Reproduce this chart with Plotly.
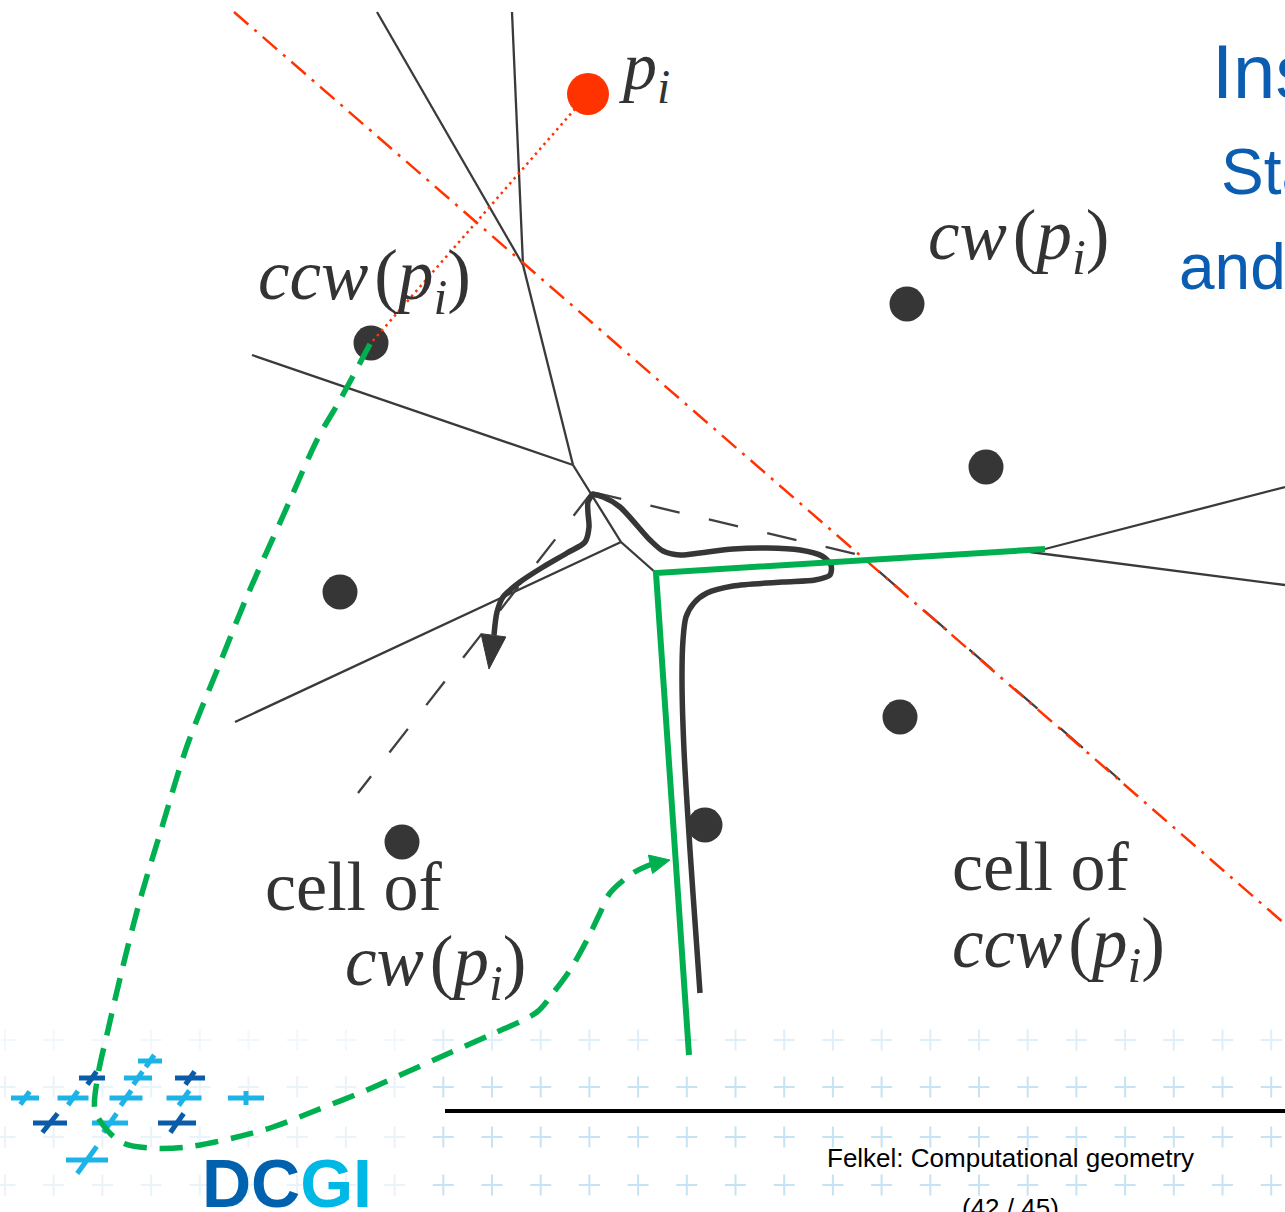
import numpy as np
import plotly.graph_objects as go

W, H = 1285, 1212

# ---------------- data (diagram coordinates, pixel space, y downward) ----------------
site_x = [371, 907, 986, 340, 900, 705, 402]
site_y = [343, 304, 467, 592, 717, 825, 842]
new_site_x = [588]
new_site_y = [94]

# Voronoi edges (thin dark polylines)
vor_edges_x = [[377, 523], [512, 523], [523, 573], [252, 573], [573, 621, 656],
               [235, 621], [656, 1045], [1045, 1285], [1030, 1285]]
vor_edges_y = [[12, 265], [12, 265], [265, 465], [355, 465], [465, 542, 573],
               [722, 542], [573, 549], [549, 487], [552, 585]]

# dashed (removed) edges
dash_edges_x = [[592, 358], [592, 860, 1120]]
dash_edges_y = [[492, 793], [492, 555, 780]]

# bisector (red dash-dot) and segment p_i -> ccw(p_i)
bis_x = [234, 1285]
bis_y = [12, 924]
seg_x = [588, 371]
seg_y = [94, 343]

# new cell boundary (green solid)
green_x = [689, 656, 1045]
green_y = [1055, 573, 549]

# walk path (thick dark curve)
walk_x = [700, 697, 690, 684, 682, 683, 686, 694, 707, 733, 783, 815, 830, 831, 822, 800, 767,
          733, 700, 680, 663, 650, 620, 603, 593, 588, 588, 589, 585, 567, 543, 520, 503, 497, 494]
walk_y = [993, 950, 850, 750, 680, 640, 617, 603, 593, 586, 582, 580, 575, 565, 556, 550, 548,
          549, 553, 555, 551, 540, 507, 497, 495, 502, 513, 527, 542, 553, 567, 582, 597, 612, 635]

# green dashed curved arrow
gdash_x = [370, 340, 318, 283, 248, 218, 187, 162, 140, 122, 108, 98, 95, 107, 123, 150, 187, 233,
           273, 317, 367, 407, 445, 490, 537, 553, 570, 587, 600, 610, 633, 652]
gdash_y = [344, 400, 438, 516, 594, 668, 746, 827, 900, 970, 1030, 1075, 1110, 1130, 1143, 1148,
           1147, 1138, 1127, 1110, 1090, 1072, 1055, 1035, 1012, 993, 970, 940, 913, 893, 873, 864]

# labels
HS = "\u200a"
label_text = ["<i>p<sub>i</sub></i>",
              "<i>ccw</i>" + HS + "(<i>p<sub>i</sub></i>)",
              "<i>cw</i>" + HS + "(<i>p<sub>i</sub></i>)",
              "cell of",
              "<i>cw</i>" + HS + "(<i>p<sub>i</sub></i>)",
              "cell of",
              "<i>ccw</i>" + HS + "(<i>p<sub>i</sub></i>)"]
label_x = [617, 256, 926, 263, 343, 950, 950]
label_y = [70, 280, 240, 886, 966, 866, 948]
label_size = [68, 71, 71, 70, 71, 70, 71]

title_text = ["Ins", "Sta", "and"]
title_x = [1210, 1219, 1177]
title_y = [71, 172, 267]
title_size = [76, 64, 64]

footer_text = ["Felkel: Computational geometry", "(42 / 45)"]
footer_x = [1010, 1010]
footer_y = [1158, 1208]

# logo crosses: centre x, centre y, width, height, slant, colour key
logo_cx = [150, 92, 138, 190, 25, 73, 126, 184, 246, 50, 110, 177, 87]
logo_cy = [1061, 1078, 1078, 1078, 1098, 1098, 1098, 1098, 1098, 1123, 1123, 1123, 1160]
logo_w = [24, 26, 28, 30, 28, 31, 33, 35, 36, 34, 36, 38, 42]
logo_h = [12, 13, 13, 13, 13, 14, 15, 15, 14, 19, 19, 19, 27]
logo_sl = [0.7, 0.7, 0.7, 0.7, 0.7, 0.7, 0.7, 0.7, 0.0, 0.8, 0.7, 0.7, 0.72]
logo_col = ["l", "d", "l", "d", "l", "l", "l", "l", "l", "d", "l", "d", "l"]

# faint background plus pattern
grid_rows = [1040, 1087, 1137, 1185]
grid_col0, grid_step, grid_ncol = 5, 48.7, 27

# ---------------- styles ----------------
DARK = "#363636"
RED = "#FF3300"
GREEN = "#00B050"
BLUE_D = "#0A5CA8"
BLUE_L = "#1CB4E6"
TITLE = "#0A5DB0"

fig = go.Figure()

# background pluses
gx, gy, gop = [], [], []
for r_i, ry in enumerate(grid_rows):
    for k in range(grid_ncol):
        x = grid_col0 + grid_step * k
        gx.append(x)
        gy.append(ry)
        op = 0.5
        if r_i == 0:
            op = 0.28
        if x < 440:
            op *= 0.4
        gop.append(op)
fig.add_trace(go.Scatter(x=gx, y=gy, mode="markers", hoverinfo="skip",
                         marker=dict(symbol="cross-thin", size=15, color="#8ec8ea", opacity=gop,
                                     line=dict(width=2, color="#8ec8ea"))))

# logo crosses
for cx, cy, w, h, sl, ck in zip(logo_cx, logo_cy, logo_w, logo_h, logo_sl, logo_col):
    col = BLUE_L if ck == "l" else BLUE_D
    xs = [cx - w / 2, cx + w / 2, None, cx - sl * h / 2, cx + sl * h / 2]
    ys = [cy, cy, None, cy + h / 2, cy - h / 2]
    fig.add_trace(go.Scatter(x=xs, y=ys, mode="lines", hoverinfo="skip",
                             line=dict(color=col, width=5)))

# Voronoi edges
for ex, ey in zip(vor_edges_x, vor_edges_y):
    fig.add_trace(go.Scatter(x=ex, y=ey, mode="lines", hoverinfo="skip",
                             line=dict(color="#3a3a3a", width=2.3)))
for ex, ey in zip(dash_edges_x, dash_edges_y):
    fig.add_trace(go.Scatter(x=ex, y=ey, mode="lines", hoverinfo="skip",
                             line=dict(color="#404040", width=2.3, dash="30px,30px")))

# red bisector
fig.add_trace(go.Scatter(x=bis_x, y=bis_y, mode="lines", hoverinfo="skip",
                         line=dict(color=RED, width=2.5, dash="19px,8px,3px,8px")))

# walk path
fig.add_trace(go.Scatter(x=walk_x, y=walk_y, mode="lines", hoverinfo="skip",
                         line=dict(color=DARK, width=5.5, shape="spline", smoothing=0.8)))


def arrow_head(tip_x, tip_y, from_x, from_y, length, half):
    d = np.array([tip_x - from_x, tip_y - from_y], dtype=float)
    d /= np.linalg.norm(d)
    p = np.array([-d[1], d[0]])
    tip = np.array([tip_x, tip_y], dtype=float)
    base = tip - d * length
    a = base + p * half
    b = base - p * half
    return [tip[0], a[0], b[0], tip[0]], [tip[1], a[1], b[1], tip[1]]


ax_, ay_ = arrow_head(walk_x[-1] - 5, walk_y[-1] + 34, walk_x[-1], walk_y[-1] - 4, 34, 12.5)
fig.add_trace(go.Scatter(x=ax_, y=ay_, mode="lines", fill="toself", fillcolor=DARK,
                         hoverinfo="skip", line=dict(color=DARK, width=1)))

# green solid boundary
fig.add_trace(go.Scatter(x=green_x, y=green_y, mode="lines", hoverinfo="skip",
                         line=dict(color=GREEN, width=6)))

# sites
fig.add_trace(go.Scatter(x=site_x, y=site_y, mode="markers", hoverinfo="skip",
                         marker=dict(size=35, color=DARK, line=dict(width=0))))
fig.add_trace(go.Scatter(x=new_site_x, y=new_site_y, mode="markers", hoverinfo="skip",
                         marker=dict(size=42, color=RED, line=dict(width=0))))

# red dotted segment
fig.add_trace(go.Scatter(x=seg_x, y=seg_y, mode="lines", hoverinfo="skip",
                         line=dict(color=RED, width=2.5, dash="2.5px,4px")))

# green dashed curve + head
fig.add_trace(go.Scatter(x=gdash_x, y=gdash_y, mode="lines", hoverinfo="skip",
                         line=dict(color=GREEN, width=5.5, dash="23px,13px", shape="spline", smoothing=0.9)))
hx, hy = arrow_head(670, 860, gdash_x[-1], gdash_y[-1], 20, 9.5)
fig.add_trace(go.Scatter(x=hx, y=hy, mode="lines", fill="toself", fillcolor=GREEN,
                         hoverinfo="skip", line=dict(color=GREEN, width=1)))

# footer rule
fig.add_trace(go.Scatter(x=[445, 1285], y=[1111, 1111], mode="lines", hoverinfo="skip",
                         line=dict(color="black", width=4)))

annotations = []
for t, x, y, s in zip(label_text, label_x, label_y, label_size):
    annotations.append(dict(text=t, x=x, y=y, xref="x", yref="y", showarrow=False,
                            xanchor="left", yanchor="middle",
                            font=dict(family="Liberation Serif, Times New Roman, serif", size=s, color="#333333")))
for t, x, y, s in zip(title_text, title_x, title_y, title_size):
    annotations.append(dict(text=t, x=x, y=y, xref="x", yref="y", showarrow=False,
                            xanchor="left", yanchor="middle",
                            font=dict(family="Liberation Sans, Arial, sans-serif", size=s, color=TITLE)))
for t, x, y in zip(footer_text, footer_x, footer_y):
    annotations.append(dict(text=t, x=x, y=y, xref="x", yref="y",
                            showarrow=False, xanchor="center", yanchor="middle",
                            font=dict(family="Liberation Sans, Arial, sans-serif", size=26, color="black")))
annotations.append(dict(text="<b><span style='color:%s'>DC</span><span style='color:%s'>GI</span></b>" % ("#0062AE", "#00B8E6"),
                        x=200, y=1183, xref="x", yref="y", showarrow=False, xanchor="left", yanchor="middle",
                        font=dict(family="Liberation Sans, Arial, sans-serif", size=68)))

fig.update_layout(
    width=W, height=H, margin=dict(l=0, r=0, t=0, b=0),
    paper_bgcolor="white", plot_bgcolor="white", showlegend=False,
    xaxis=dict(range=[0, W], visible=False, fixedrange=True),
    yaxis=dict(range=[H, 0], visible=False, fixedrange=True),
    annotations=annotations,
)

fig.write_html("out.html", config={"displayModeBar": False},
               post_script="document.body.style.margin='0';document.body.style.overflow='hidden';")
